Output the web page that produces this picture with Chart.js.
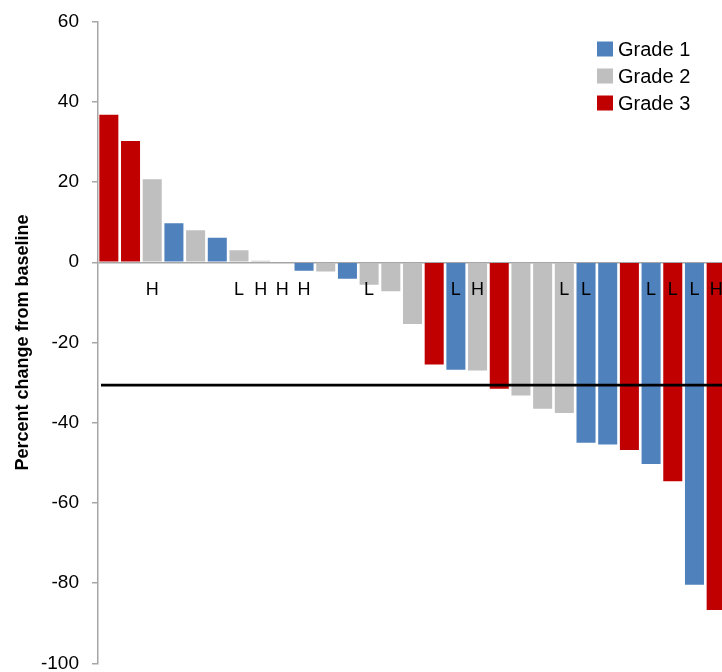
<!DOCTYPE html>
<html>
<head>
<meta charset="utf-8">
<script src="https://cdn.jsdelivr.net/npm/chart.js@4"></script>
<style>
html,body{margin:0;padding:0;overflow:hidden;background:#fff;width:722px;height:672px}
#wrap{position:relative;width:730px;height:685px}
</style>
</head>
<body>
<div id="wrap"><canvas id="c"></canvas></div>
<script>
// ---- data ----
const patients = ['1','2','3','4','5','6','7','8','9','10','11','12','13','14','15','16','17','18','19','20','21','22','23','24','25','26','27','28','29'];
const changes = [36.8, 30.2, 20.7, 9.7, 8.0, 6.1, 3.0, 0.4, 0, -2.1, -2.3, -4.1, -5.6, -7.2, -15.4, -25.5, -26.8, -27.0, -31.5, -33.2, -36.5, -37.6, -45.0, -45.4, -46.8, -50.3, -54.6, -80.4, -86.7];
const grades  = [3, 3, 2, 1, 2, 1, 2, 2, 2, 1, 2, 1, 2, 2, 2, 3, 1, 2, 3, 2, 2, 2, 1, 1, 3, 1, 3, 1, 3];
const markers = ['', '', 'H', '', '', '', 'L', 'H', 'H', 'H', '', '', 'L', '', '', '', 'L', 'H', '', '', '', 'L', 'L', '', '', 'L', 'L', 'L', 'H'];
const gradeNames  = ['Grade 1', 'Grade 2', 'Grade 3'];
const gradeColors = ['#4F81BD', '#BFBFBF', '#C00000'];
const yMin = -100, yMax = 60, yStep = 20;
const thresholdValue = -30.6;
const markerLevel = -7;
const yTitle = 'Percent change from baseline';

const FONT = '"Liberation Sans", Arial, sans-serif';

const datasets = gradeNames.map((name, g) => ({
  label: name,
  data: changes.map((v, i) => grades[i] === g + 1 ? v : null),
  backgroundColor: gradeColors[g],
  borderWidth: 0,
  categoryPercentage: 1.0,
  barPercentage: 0.877
}));

const thresholdPlugin = {
  id: 'threshold',
  afterDatasetsDraw(chart) {
    const {ctx, chartArea, scales} = chart;
    const y = scales.y.getPixelForValue(thresholdValue);
    ctx.save();
    ctx.strokeStyle = '#000';
    ctx.lineWidth = 2.7;
    ctx.beginPath();
    ctx.moveTo(chartArea.left + 3, y);
    ctx.lineTo(chartArea.right, y);
    ctx.stroke();
    ctx.restore();
  }
};

const markerPlugin = {
  id: 'markers',
  afterDatasetsDraw(chart) {
    const {ctx, scales} = chart;
    ctx.save();
    ctx.font = '18px ' + FONT;
    ctx.fillStyle = '#000';
    ctx.textAlign = 'center';
    ctx.textBaseline = 'middle';
    const y = scales.y.getPixelForValue(markerLevel);
    markers.forEach((m, i) => {
      if (!m) return;
      ctx.fillText(m, scales.x.getPixelForValue(i), y);
    });
    ctx.restore();
  }
};

const legendPlugin = {
  id: 'gradeLegend',
  afterDraw(chart) {
    const ctx = chart.ctx;
    ctx.save();
    ctx.font = '20px ' + FONT;
    ctx.textBaseline = 'middle';
    ctx.textAlign = 'left';
    chart.data.datasets.forEach((ds, i) => {
      const y = 49 + i * 27;
      ctx.fillStyle = ds.backgroundColor;
      ctx.fillRect(597, y - 7.5, 16, 15);
      ctx.fillStyle = '#000';
      ctx.fillText(ds.label, 618, y + 1);
    });
    ctx.restore();
  }
};

new Chart(document.getElementById('c'), {
  type: 'bar',
  data: { labels: patients, datasets },
  options: {
    responsive: true,
    maintainAspectRatio: false,
    animation: false,
    layout: { padding: { top: 0, bottom: 0, left: 0, right: 3 } },
    plugins: { legend: { display: false }, tooltip: { enabled: false } },
    scales: {
      x: { display: false, stacked: true },
      y: {
        stacked: true,
        min: yMin, max: yMax,
        ticks: { stepSize: yStep, color: '#000', font: { size: 19, family: FONT, lineHeight: 0.9 }, padding: 13 },
        grid: {
          drawOnChartArea: true,
          color: c => (c.tick && c.tick.value === 0) ? '#A6A6A6' : 'rgba(0,0,0,0)',
          tickColor: '#A6A6A6',
          tickLength: 6,
          lineWidth: 1.5
        },
        border: { color: '#A6A6A6', width: 1.5 },
        title: { display: true, text: yTitle, color: '#000', font: { size: 18, weight: 'bold', family: FONT }, padding: { top: 12, bottom: 0 } },
        afterFit: s => { s.width = 98; }
      }
    }
  },
  plugins: [thresholdPlugin, markerPlugin, legendPlugin]
});
</script>
</body>
</html>
